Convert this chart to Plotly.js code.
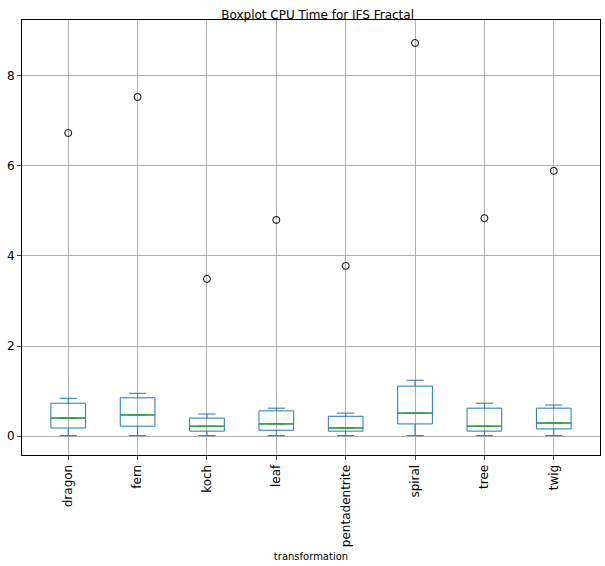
<!DOCTYPE html>
<html>
<head>
<script src="https://cdn.plot.ly/plotly-3.0.1.min.js"></script>
<style>body{margin:0}</style>
</head>
<body>
<div id="chart" style="width:605px;height:566px"></div>
<script>
const names = ["dragon","fern","koch","leaf","pentadentrite","spiral","tree","twig"];
const lowVals = [0.01,0.01,0.01,0.01,0.01,0.01,0.01,0.01];
const q1Vals = [0.18,0.22,0.11,0.13,0.11,0.27,0.11,0.16];
const medVals = [0.40,0.47,0.22,0.27,0.18,0.51,0.22,0.29];
const q3Vals = [0.73,0.85,0.40,0.56,0.44,1.11,0.62,0.62];
const highVals = [0.84,0.95,0.49,0.62,0.51,1.24,0.73,0.69];
const outliers = [6.73,7.53,3.49,4.80,3.78,8.73,4.84,5.89];

const boxes = {
  type: "box", x: names, q1: q1Vals, median: medVals, q3: q3Vals,
  lowerfence: lowVals, upperfence: highVals,
  width: 0.5, whiskerwidth: 0.5, fillcolor: "rgba(0,0,0,0)",
  line: {color: "#1f77b4", width: 1}, boxpoints: false, showlegend: false, hoverinfo: "skip"
};
// green median line drawn as a flat box
const medians = {
  type: "box", x: names, q1: medVals, median: medVals, q3: medVals,
  lowerfence: medVals, upperfence: medVals,
  width: 0.5, fillcolor: "rgba(0,0,0,0)",
  line: {color: "#2ca02c", width: 0.6}, boxpoints: false, showlegend: false
};
const fliers = {
  type: "scatter", mode: "markers", x: names, y: outliers,
  marker: {symbol: "circle-open", size: 7, color: "black", line: {width: 1}},
  showlegend: false
};

Plotly.newPlot("chart", [boxes, medians, fliers], {
  width: 605, height: 566,
  margin: {l: 22, r: 5, t: 20, b: 111},
  paper_bgcolor: "white", plot_bgcolor: "white",
  boxmode: "overlay",
  font: {family: "DejaVu Sans", color: "black"},
  title: {text: "Boxplot CPU Time for IFS Fractal", font: {size: 12}, x: 0.525, y: 0.982, yanchor: "top"},
  xaxis: {
    title: {text: "transformation", font: {size: 10}, standoff: 6},
    tickangle: -90, tickfont: {size: 12},
    showgrid: true, gridcolor: "#b0b0b0",
    showline: true, mirror: true, linecolor: "black",
    ticks: "outside", ticklen: 4
  },
  yaxis: {
    range: [-0.42, 9.24], tickvals: [0,2,4,6,8], tickfont: {size: 12},
    showgrid: true, gridcolor: "#b0b0b0", zeroline: false,
    showline: true, mirror: true, linecolor: "black",
    ticks: "outside", ticklen: 4
  }
}, {displayModeBar: false});
</script>
</body>
</html>
